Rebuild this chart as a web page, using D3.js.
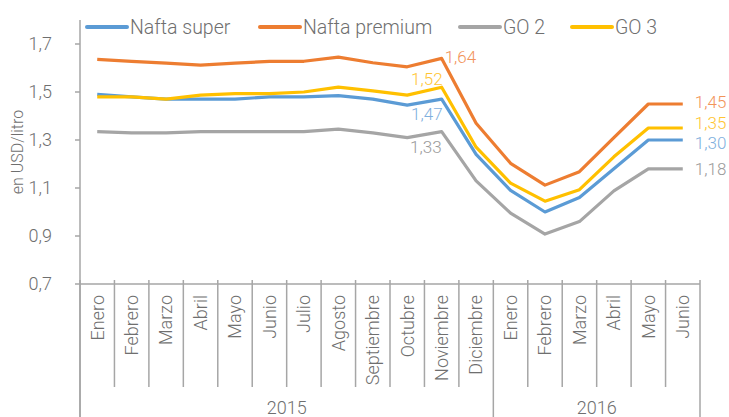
<!DOCTYPE html>
<html>
<head>
<meta charset="utf-8">
<script src="https://cdn.jsdelivr.net/npm/d3@7"></script>
<style>
  body { margin: 0; background: #fff; }
  text { font-family: "Roboto Light", Roboto, "Open Sans", sans-serif; font-weight: 300; fill: #6f6f6f; }
</style>
</head>
<body>
<div id="chart"></div>
<script>
const width = 729;
const height = 417;

const months = ["Enero","Febrero","Marzo","Abril","Mayo","Junio","Julio","Agosto","Septiembre","Octubre","Noviembre","Diciembre",
                "Enero","Febrero","Marzo","Abril","Mayo","Junio"];
const years = [{ label: "2015", from: 0, to: 12 }, { label: "2016", from: 12, to: 18 }];

const naftaSuper   = [1.49,1.48,1.47,1.47,1.47,1.48,1.48,1.485,1.47,1.445,1.47,1.24,1.09,1.00,1.06,1.18,1.30,1.30];
const naftaPremium = [1.636,1.628,1.62,1.612,1.62,1.628,1.628,1.645,1.622,1.605,1.64,1.37,1.203,1.112,1.168,1.31,1.45,1.45];
const go2          = [1.335,1.33,1.33,1.335,1.335,1.335,1.335,1.345,1.33,1.31,1.335,1.13,0.995,0.908,0.96,1.088,1.18,1.18];
const go3          = [1.48,1.48,1.47,1.487,1.493,1.493,1.50,1.52,1.505,1.487,1.52,1.27,1.12,1.045,1.093,1.23,1.35,1.35];

const yTicks = [0.7, 0.9, 1.1, 1.3, 1.5, 1.7];

const series = [
  { name: "Nafta super",   values: naftaSuper,   colour: "#5b9bd5", labelColour: "#7fb0de" },
  { name: "Nafta premium", values: naftaPremium, colour: "#ed7d31", labelColour: "#f2945a" },
  { name: "GO 2",          values: go2,          colour: "#a5a5a5", labelColour: "#9c9c9c" },
  { name: "GO 3",          values: go3,          colour: "#ffc000", labelColour: "#ffc533" }
];

const margin = { top: 20, right: 29, bottom: 133, left: 80 };
const fmt = v => d3.format(".2f")(v).replace(".", ",");

const svg = d3.select("#chart").append("svg")
   .attr("width", width)
   .attr("height", height);

const x = d3.scaleBand()
   .domain(d3.range(months.length))
   .range([margin.left, width - margin.right])
   .paddingInner(0).paddingOuter(0);

const cx = i => x(i) + x.bandwidth() / 2;

const y = d3.scaleLinear()
   .domain([0.7, 1.8])
   .range([height - margin.bottom, margin.top]);

const axisColour = "#a6a6a6";
const y0 = y(0.7);

// y axis
svg.append("line")
   .attr("x1", margin.left).attr("x2", margin.left)
   .attr("y1", y(1.8)).attr("y2", height)
   .attr("stroke", axisColour).attr("stroke-width", 1.5);

svg.selectAll("line.ytick")
   .data(yTicks)
   .enter().append("line")
   .attr("class", "ytick")
   .attr("x1", margin.left - 5).attr("x2", margin.left)
   .attr("y1", d => y(d)).attr("y2", d => y(d))
   .attr("stroke", axisColour).attr("stroke-width", 1.5);

svg.selectAll("text.ylabel")
   .data(yTicks)
   .enter().append("text")
   .attr("class", "ylabel")
   .attr("x", 52)
   .attr("y", d => y(d))
   .attr("dy", "0.35em")
   .style("text-anchor", "end")
   .style("font-size", "18px")
   .text(d => d3.format(".1f")(d).replace(".", ","));

svg.append("text")
   .attr("transform", `translate(23,152) rotate(-90)`)
   .style("text-anchor", "middle")
   .style("font-size", "16px")
   .text("en USD/litro");

// x axis
svg.append("line")
   .attr("x1", margin.left).attr("x2", width - margin.right)
   .attr("y1", y0).attr("y2", y0)
   .attr("stroke", axisColour).attr("stroke-width", 1.5);

const bounds = d3.range(months.length + 1);
svg.selectAll("line.xsep")
   .data(bounds)
   .enter().append("line")
   .attr("class", "xsep")
   .attr("x1", d => x.range()[0] + d * x.step())
   .attr("x2", d => x.range()[0] + d * x.step())
   .attr("y1", y0 - 4)
   .attr("y2", d => (d === 0 || d === 12 || d === 18) ? height : y0 + 103)
   .attr("stroke", axisColour).attr("stroke-width", 1.5);

svg.selectAll("text.month")
   .data(months)
   .enter().append("text")
   .attr("class", "month")
   .attr("transform", (d, i) => `translate(${cx(i)},${y0 + 11}) rotate(-90)`)
   .attr("dy", "0.35em")
   .style("text-anchor", "end")
   .style("font-size", "18px")
   .text(d => d);

svg.selectAll("text.year")
   .data(years)
   .enter().append("text")
   .attr("class", "year")
   .attr("x", d => x.range()[0] + (d.from + d.to) / 2 * x.step())
   .attr("y", 408)
   .attr("dy", "0.35em")
   .style("text-anchor", "middle")
   .style("font-size", "18px")
   .text(d => d.label);

// lines
const line = d3.line()
   .x((d, i) => cx(i))
   .y(d => y(d));

svg.selectAll("path.series")
   .data(series)
   .enter().append("path")
   .attr("class", "series")
   .attr("d", d => line(d.values))
   .attr("fill", "none")
   .attr("stroke", d => d.colour)
   .attr("stroke-width", 3.2)
   .attr("stroke-linejoin", "round");

// data labels: [series index, point index, dx, dy, anchor]
const labels = [
  [1, 10, 3, -1, "start"],
  [3, 10, 1, -8, "end"],
  [0, 10, 1, 15, "end"],
  [2, 10, 0, 15, "end"],
  [1, 17, 12, -2, "start"],
  [3, 17, 12, -5, "start"],
  [0, 17, 12, 3, "start"],
  [2, 17, 12, 0, "start"]
];

svg.selectAll("text.dlabel")
   .data(labels)
   .enter().append("text")
   .attr("class", "dlabel")
   .attr("x", d => cx(d[1]) + d[2])
   .attr("y", d => y(series[d[0]].values[d[1]]) + d[3])
   .attr("dy", "0.35em")
   .style("text-anchor", d => d[4])
   .style("font-size", "17px")
   .style("fill", d => series[d[0]].labelColour)
   .text(d => fmt(series[d[0]].values[d[1]]));

// legend
const legendX = [87, 260, 460, 572];
const legend = svg.selectAll("g.legend")
   .data(series)
   .enter().append("g")
   .attr("class", "legend")
   .attr("transform", (d, i) => `translate(${legendX[i]},27)`);

legend.append("line")
   .attr("x1", 0).attr("x2", 40)
   .attr("stroke", d => d.colour)
   .attr("stroke-width", 4)
   .attr("stroke-linecap", "round");

legend.append("text")
   .attr("x", 43)
   .attr("dy", "0.35em")
   .style("font-size", "19.5px")
   .text(d => d.name);
</script>
</body>
</html>
